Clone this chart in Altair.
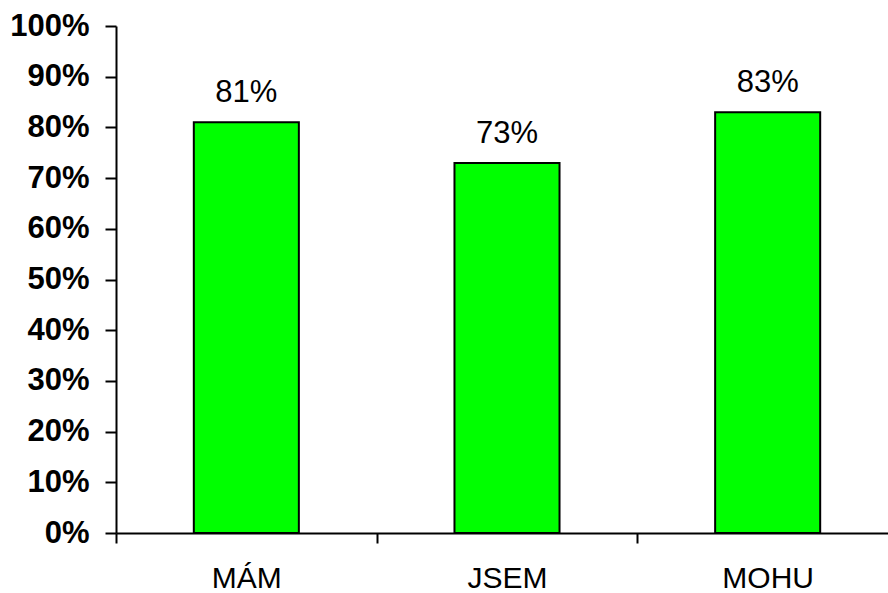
import altair as alt
import pandas as pd

categories = ["MÁM", "JSEM", "MOHU"]
shares = [0.81, 0.73, 0.83]

df = pd.DataFrame({"kategorie": categories, "podil": shares})

FONT = "Liberation Sans"

x_enc = alt.X(
    "kategorie:N",
    sort=categories,
    scale=alt.Scale(paddingInner=0, paddingOuter=0, range=[0, 782]),
    axis=alt.Axis(
        title=None,
        labelAngle=0,
        labelFont=FONT,
        labelFontSize=30,
        labelColor="black",
        labelPadding=20,
        tickBand="extent",
        tickSize=10,
        tickWidth=2,
        tickColor="black",
        domainColor="black",
        domainWidth=2,
        grid=False,
    ),
)

y_enc = alt.Y(
    "podil:Q",
    scale=alt.Scale(domain=[0, 1], nice=False),
    axis=alt.Axis(
        title=None,
        format=".0%",
        values=[i / 10 for i in range(11)],
        labelFont=FONT,
        labelFontSize=31,
        labelFontWeight="bold",
        labelColor="black",
        labelPadding=16,
        tickSize=11,
        tickWidth=2,
        tickColor="black",
        domainColor="black",
        domainWidth=2,
        grid=False,
    ),
)

bars = alt.Chart(df).mark_bar(
    color="#00FF00",
    stroke="black",
    strokeWidth=2,
    width=alt.RelativeBandSize(0.403),
).encode(x=x_enc, y=y_enc)

labels = alt.Chart(df).mark_text(
    font=FONT,
    fontSize=31,
    color="black",
    baseline="alphabetic",
    dy=-20,
).encode(
    x=alt.X("kategorie:N", sort=categories),
    y="podil:Q",
    text=alt.Text("podil:Q", format=".0%"),
)

chart = (
    alt.layer(bars, labels)
    .properties(
        width=772,
        height=507,
        padding={"left": 116, "top": 26, "right": 0, "bottom": 60},
        autosize=alt.AutoSizeParams(type="none"),
        background="white",
    )
    .configure_view(stroke=None)
)

chart.save("out.html", embed_options={"renderer": "svg", "actions": False})
